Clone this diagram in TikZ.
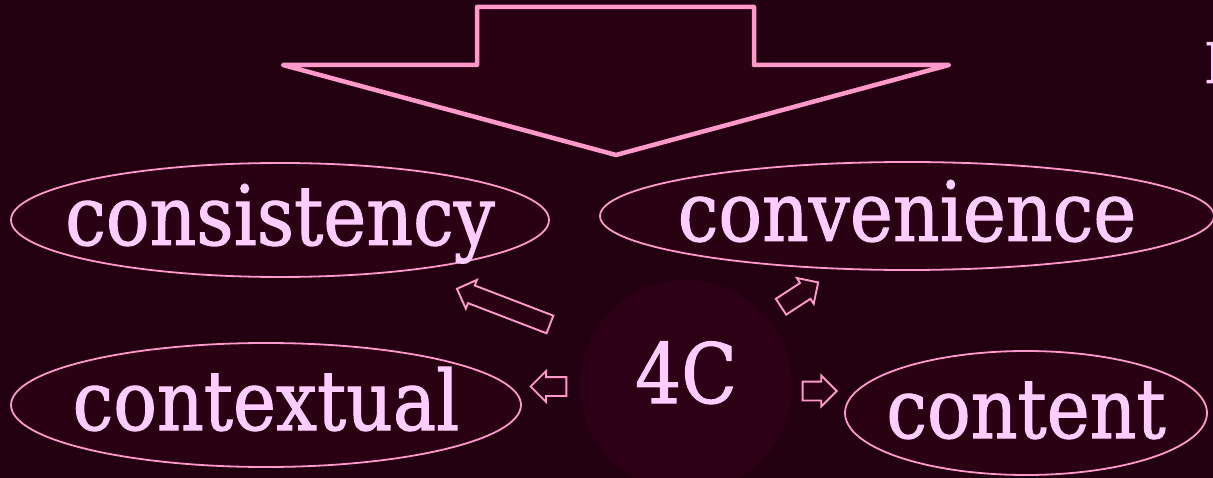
\documentclass[tikz,border=0pt]{standalone}
\usepackage{fontspec}
\setmainfont[FakeStretch=0.875,FakeBold=1.2]{DejaVu Serif}
\usetikzlibrary{shapes.geometric,shapes.arrows}
\definecolor{bgdark}{RGB}{34,0,16}
\definecolor{fillmid}{RGB}{42,0,19}
\definecolor{fillsoft}{RGB}{46,0,21}
\definecolor{linepink}{RGB}{255,153,204}
\definecolor{textpink}{RGB}{255,204,255}

\begin{document}
\begin{tikzpicture}[x=1pt,y=-1pt,
  word/.style={text=textpink,font=\fontsize{83}{90}\selectfont,inner sep=0pt},
  oval/.style={word,ellipse,draw=linepink,line width=1.8pt,fill=fillmid,
    inner xsep=-60pt,text height=63pt,text depth=13pt},
  blockarr/.style={single arrow,draw=linepink,line width=1.9pt,fill=fillmid,
    inner xsep=0pt,inner ysep=8.5pt,single arrow head extend=6pt,minimum width=0pt}]
\useasboundingbox (0,0) rectangle (1213,478);
\fill[bgdark] (0,0) rectangle (1213,478);
% Big arrow pointing down onto the ovals.
\draw[linepink,line width=4.5pt,line join=round,fill=fillmid]
  (477,7) -- (754,7) -- (754,65) -- (949,65) -- (616,155) -- (283,65) -- (477,65) -- cycle;
% Letter cut off by the right border.
\node[text=textpink,font=\fontsize{56}{60}\selectfont,anchor=base west,inner sep=0pt]
  (edge) at (1204,83) {I};
% The four ovals.
\node[oval,minimum width=538pt,minimum height=114pt] (cons) at (280,220) {consistency};
\node[oval,minimum width=614pt,minimum height=108pt] (conv) at (907,216) {convenience};
\node[oval,minimum width=510pt,minimum height=124pt] (ctxt) at (266,405) {contextual};
\node[oval,minimum width=362pt,minimum height=124pt] (cont) at (1026,413) {content};
% Centre disc.
\node[word,circle,fill=fillsoft,minimum size=212pt,text height=50pt,text depth=16pt]
  (four) at (686,386) {4C};
% Small block arrows from the disc.
\foreach \nm/\ang/\len/\tx/\ty in {toCons/159/99.6/455.7/288.3,
    toConv/33.2/44.4/819.3/281.7, toCtxt/180/35.7/529.3/386.5, toCont/0/34/838/391}{
  \node[blockarr,rotate=\ang,minimum height=\len pt,anchor=tip] (\nm) at (\tx,\ty) {};
}
\end{tikzpicture}
\end{document}
